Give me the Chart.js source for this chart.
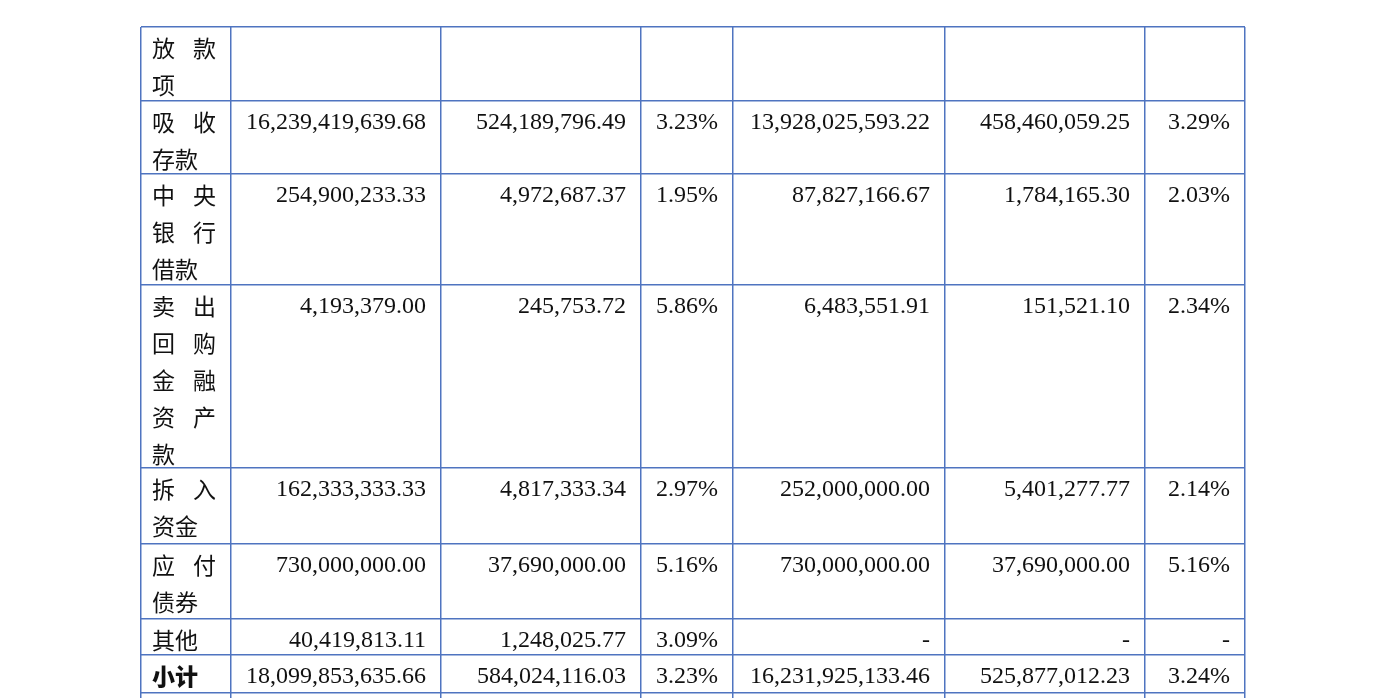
<!DOCTYPE html>
<html lang="zh">
<head>
    <meta charset="UTF-8">
    <title>付息负债</title>
    <script src="https://cdn.jsdelivr.net/npm/chart.js"></script>
    <style>
        body {
            margin: 0;
            padding: 0;
            background-color: #ffffff;
        }
        #table-chart {
            display: block;
        }
    </style>
</head>
<body>
    <canvas id="table-chart" width="1388" height="698"></canvas>

    <script>
        // Table data
        const rowLabels = ['放款项', '吸收存款', '中央银行借款', '卖出回购金融资产款', '拆入资金', '应付债券', '其他', '小计'];
        const balance1 = [null, 16239419639.68, 254900233.33, 4193379.00, 162333333.33, 730000000.00, 40419813.11, 18099853635.66];
        const interest1 = [null, 524189796.49, 4972687.37, 245753.72, 4817333.34, 37690000.00, 1248025.77, 584024116.03];
        const rate1 = [null, 3.23, 1.95, 5.86, 2.97, 5.16, 3.09, 3.23];
        const balance2 = [null, 13928025593.22, 87827166.67, 6483551.91, 252000000.00, 730000000.00, '-', 16231925133.46];
        const interest2 = [null, 458460059.25, 1784165.30, 151521.10, 5401277.77, 37690000.00, '-', 525877012.23];
        const rate2 = [null, 3.29, 2.03, 2.34, 2.14, 5.16, '-', 3.24];

        // Layout: column and row edges in table units (px from table's top-left)
        const colEdges = [0, 90, 300, 500, 592, 804, 1004, 1104];
        const rowEdges = [0, 74, 147, 258, 441, 517, 592, 628, 666];
        const LINE_COLOR = '#4f74c0';

        const columns = [
            { values: balance1, kind: 'money' },
            { values: interest1, kind: 'money' },
            { values: rate1, kind: 'pct' },
            { values: balance2, kind: 'money' },
            { values: interest2, kind: 'money' },
            { values: rate2, kind: 'pct' }
        ];

        function formatCell(v, kind) {
            if (v === null || v === undefined) return '';
            if (v === '-') return '-';
            if (kind === 'pct') return v.toFixed(2) + '%';
            return v.toLocaleString('en-US', { minimumFractionDigits: 2, maximumFractionDigits: 2 });
        }

        // split a label into 2-char lines
        function wrapLabel(label) {
            const lines = [];
            for (let i = 0; i < label.length; i += 2) lines.push(label.slice(i, i + 2));
            return lines;
        }

        const cellTextPlugin = {
            id: 'cellText',
            afterDraw(chart) {
                const ctx = chart.ctx;
                const xs = chart.scales.x;
                const ys = chart.scales.y;
                ctx.save();
                ctx.fillStyle = '#111111';

                rowLabels.forEach((label, r) => {
                    const top = ys.getPixelForValue(rowEdges[r]);
                    const left = xs.getPixelForValue(colEdges[0]);
                    const right = xs.getPixelForValue(colEdges[1]);

                    // first column: Chinese labels
                    const bold = label === '小计';
                    ctx.font = (bold ? '900 ' : '') + '23px "Noto Sans CJK SC"';
                    ctx.textBaseline = 'middle';
                    const lines = wrapLabel(label);
                    lines.forEach((line, i) => {
                        const y = top + 21.5 + i * 37;
                        const isLast = i === lines.length - 1;
                        if (!isLast && line.length === 2) {
                            ctx.textAlign = 'left';
                            ctx.fillText(line[0], left + 11, y);
                            ctx.textAlign = 'right';
                            ctx.fillText(line[1], right - 15, y);
                        } else {
                            ctx.textAlign = 'left';
                            ctx.fillText(line, left + 11, y);
                        }
                    });

                    // numeric columns
                    ctx.font = '24px "Liberation Serif"';
                    ctx.textBaseline = 'alphabetic';
                    ctx.textAlign = 'right';
                    columns.forEach((col, c) => {
                        const txt = formatCell(col.values[r], col.kind);
                        if (!txt) return;
                        const cellRight = xs.getPixelForValue(colEdges[c + 2]);
                        ctx.fillText(txt, cellRight - 15, top + 27.5);
                    });
                });
                ctx.restore();
            }
        };

        const ctx = document.getElementById('table-chart').getContext('2d');
        const tableChart = new Chart(ctx, {
            type: 'scatter',
            data: { datasets: [] },
            options: {
                responsive: false,
                animation: false,
                layout: { padding: { left: 141, right: 143, top: 27, bottom: 0 } },
                plugins: {
                    legend: { display: false },
                    tooltip: { enabled: false }
                },
                scales: {
                    x: {
                        type: 'linear',
                        position: 'top',
                        min: 0,
                        max: 1104,
                        afterBuildTicks: s => { s.ticks = colEdges.map(v => ({ value: v })); },
                        ticks: { display: false },
                        grid: { color: LINE_COLOR, lineWidth: 1.5, drawTicks: false },
                        border: { display: false }
                    },
                    y: {
                        type: 'linear',
                        reverse: true,
                        min: 0,
                        max: 671,
                        afterBuildTicks: s => { s.ticks = rowEdges.map(v => ({ value: v })); },
                        ticks: { display: false },
                        grid: { color: LINE_COLOR, lineWidth: 1.5, drawTicks: false },
                        border: { display: false }
                    }
                }
            },
            plugins: [cellTextPlugin]
        });
    </script>
</body>
</html>
